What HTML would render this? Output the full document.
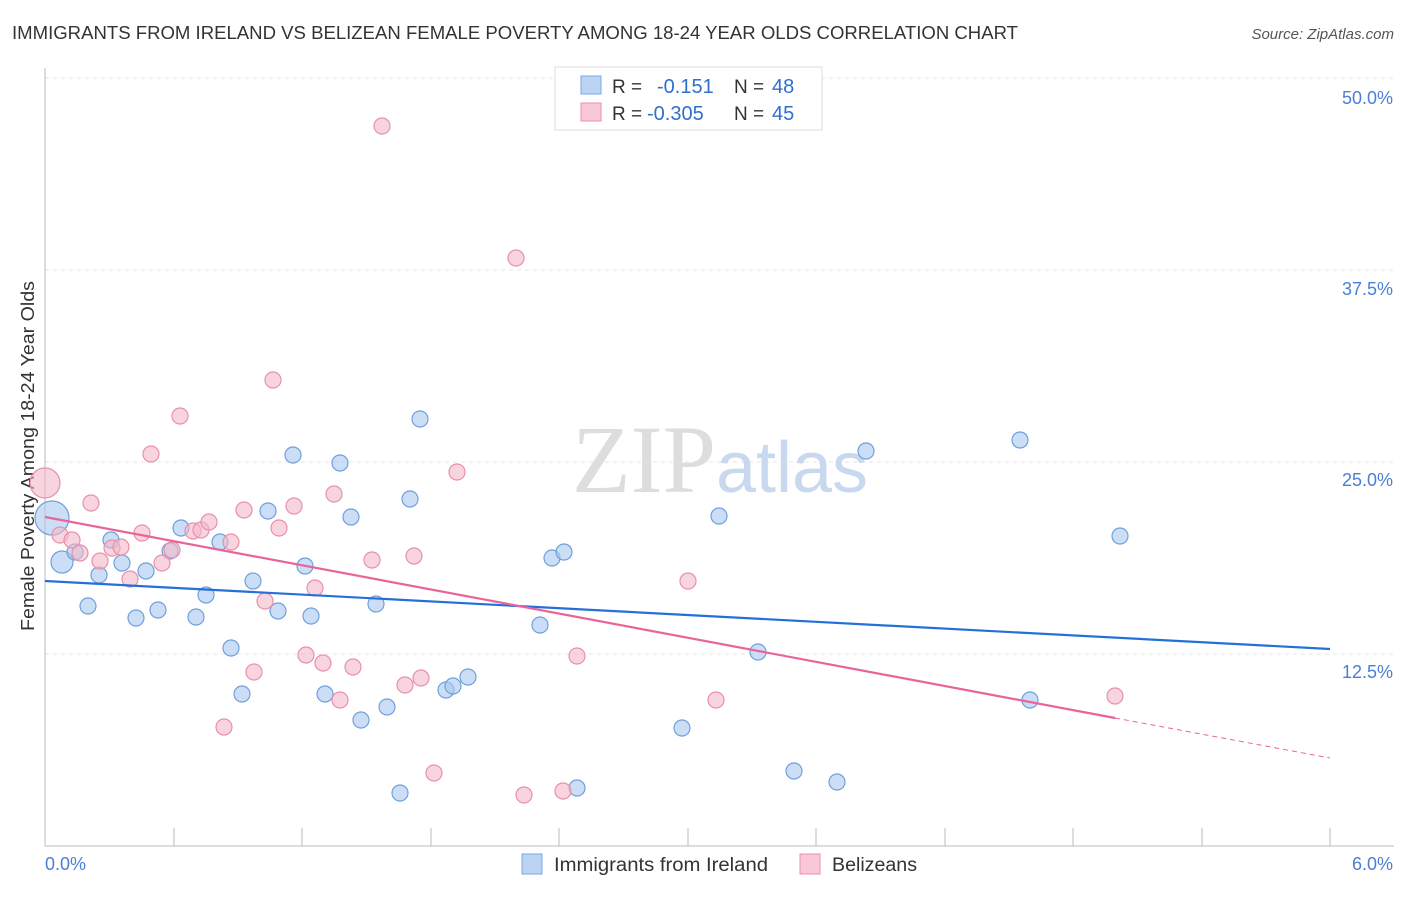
<!DOCTYPE html>
<html><head><meta charset="utf-8"><style>
body{margin:0;background:#fff;font-family:"Liberation Sans",Arial,sans-serif}
</style></head><body>
<svg width="1406" height="892" xmlns="http://www.w3.org/2000/svg" font-family="Liberation Sans, Arial, sans-serif">
<text x="12" y="39" font-size="18" fill="#333" textLength="1006" lengthAdjust="spacingAndGlyphs">IMMIGRANTS FROM IRELAND VS BELIZEAN FEMALE POVERTY AMONG 18-24 YEAR OLDS CORRELATION CHART</text>
<text x="1394" y="39" font-size="15" fill="#555" font-style="italic" text-anchor="end">Source: ZipAtlas.com</text>
<g stroke="#e4e4e4" stroke-dasharray="4,4">
<line x1="45" y1="78" x2="1394" y2="78"/><line x1="45" y1="270" x2="1394" y2="270"/><line x1="45" y1="462" x2="1394" y2="462"/><line x1="45" y1="654" x2="1394" y2="654"/>
</g>
<g stroke="#bbb"><line x1="45" y1="68" x2="45" y2="846"/><line x1="45" y1="846" x2="1394" y2="846"/>
<line x1="174" y1="828" x2="174" y2="846"/><line x1="302" y1="828" x2="302" y2="846"/><line x1="431" y1="828" x2="431" y2="846"/><line x1="559" y1="828" x2="559" y2="846"/><line x1="688" y1="828" x2="688" y2="846"/><line x1="816" y1="828" x2="816" y2="846"/><line x1="945" y1="828" x2="945" y2="846"/><line x1="1073" y1="828" x2="1073" y2="846"/><line x1="1202" y1="828" x2="1202" y2="846"/><line x1="1330" y1="828" x2="1330" y2="846"/></g>
<g font-size="18" fill="#4a7fd6" text-anchor="end">
<text x="1393" y="104">50.0%</text><text x="1393" y="295">37.5%</text><text x="1393" y="486">25.0%</text><text x="1393" y="678">12.5%</text>
</g>
<text x="45" y="870" font-size="18" fill="#4a7fd6">0.0%</text>
<text x="1393" y="870" font-size="18" fill="#4a7fd6" text-anchor="end">6.0%</text>
<text transform="translate(34,456) rotate(-90)" font-size="18" fill="#333" text-anchor="middle" textLength="350" lengthAdjust="spacingAndGlyphs">Female Poverty Among 18-24 Year Olds</text>
<text x="720" y="492" font-size="96" fill="#ddd" text-anchor="middle" font-family="Liberation Serif, serif">ZIP<tspan fill="#c8d8ee" font-family="Liberation Sans, sans-serif" font-size="72">atlas</tspan></text>
<g fill="#a8c8f0" fill-opacity="0.6" stroke="#6fa0dc" stroke-width="1.2">
<circle cx="52" cy="518" r="17"/><circle cx="62" cy="562" r="11"/><circle cx="75" cy="552" r="8"/><circle cx="88" cy="606" r="8"/><circle cx="99" cy="575" r="8"/><circle cx="111" cy="540" r="8"/><circle cx="122" cy="563" r="8"/><circle cx="136" cy="618" r="8"/><circle cx="146" cy="571" r="8"/><circle cx="158" cy="610" r="8"/><circle cx="170" cy="551" r="8"/><circle cx="181" cy="528" r="8"/><circle cx="196" cy="617" r="8"/><circle cx="206" cy="595" r="8"/><circle cx="220" cy="542" r="8"/><circle cx="231" cy="648" r="8"/><circle cx="242" cy="694" r="8"/><circle cx="253" cy="581" r="8"/><circle cx="268" cy="511" r="8"/><circle cx="278" cy="611" r="8"/><circle cx="293" cy="455" r="8"/><circle cx="305" cy="566" r="8"/><circle cx="311" cy="616" r="8"/><circle cx="325" cy="694" r="8"/><circle cx="340" cy="463" r="8"/><circle cx="351" cy="517" r="8"/><circle cx="361" cy="720" r="8"/><circle cx="376" cy="604" r="8"/><circle cx="387" cy="707" r="8"/><circle cx="400" cy="793" r="8"/><circle cx="410" cy="499" r="8"/><circle cx="420" cy="419" r="8"/><circle cx="446" cy="690" r="8"/><circle cx="453" cy="686" r="8"/><circle cx="468" cy="677" r="8"/><circle cx="540" cy="625" r="8"/><circle cx="552" cy="558" r="8"/><circle cx="564" cy="552" r="8"/><circle cx="577" cy="788" r="8"/><circle cx="682" cy="728" r="8"/><circle cx="719" cy="516" r="8"/><circle cx="758" cy="652" r="8"/><circle cx="794" cy="771" r="8"/><circle cx="837" cy="782" r="8"/><circle cx="866" cy="451" r="8"/><circle cx="1020" cy="440" r="8"/><circle cx="1030" cy="700" r="8"/><circle cx="1120" cy="536" r="8"/>
</g>
<g fill="#f4b8c8" fill-opacity="0.6" stroke="#e890ac" stroke-width="1.2">
<circle cx="45" cy="483" r="15"/><circle cx="60" cy="535" r="8"/><circle cx="72" cy="540" r="8"/><circle cx="80" cy="553" r="8"/><circle cx="91" cy="503" r="8"/><circle cx="100" cy="561" r="8"/><circle cx="112" cy="548" r="8"/><circle cx="121" cy="547" r="8"/><circle cx="130" cy="579" r="8"/><circle cx="142" cy="533" r="8"/><circle cx="151" cy="454" r="8"/><circle cx="162" cy="563" r="8"/><circle cx="172" cy="550" r="8"/><circle cx="180" cy="416" r="8"/><circle cx="193" cy="531" r="8"/><circle cx="201" cy="530" r="8"/><circle cx="209" cy="522" r="8"/><circle cx="224" cy="727" r="8"/><circle cx="231" cy="542" r="8"/><circle cx="244" cy="510" r="8"/><circle cx="254" cy="672" r="8"/><circle cx="265" cy="601" r="8"/><circle cx="273" cy="380" r="8"/><circle cx="279" cy="528" r="8"/><circle cx="294" cy="506" r="8"/><circle cx="306" cy="655" r="8"/><circle cx="315" cy="588" r="8"/><circle cx="323" cy="663" r="8"/><circle cx="334" cy="494" r="8"/><circle cx="340" cy="700" r="8"/><circle cx="353" cy="667" r="8"/><circle cx="372" cy="560" r="8"/><circle cx="382" cy="126" r="8"/><circle cx="405" cy="685" r="8"/><circle cx="414" cy="556" r="8"/><circle cx="421" cy="678" r="8"/><circle cx="434" cy="773" r="8"/><circle cx="457" cy="472" r="8"/><circle cx="516" cy="258" r="8"/><circle cx="524" cy="795" r="8"/><circle cx="563" cy="791" r="8"/><circle cx="577" cy="656" r="8"/><circle cx="688" cy="581" r="8"/><circle cx="716" cy="700" r="8"/><circle cx="1115" cy="696" r="8"/>
</g>
<line x1="45" y1="581" x2="1330" y2="649" stroke="#2470d8" stroke-width="2.2"/>
<line x1="45" y1="517" x2="1115" y2="718" stroke="#e8649a" stroke-width="2.2"/>
<line x1="1115" y1="718" x2="1330" y2="758" stroke="#e8649a" stroke-width="1" stroke-dasharray="5,4"/>
<rect x="555" y="67" width="267" height="63" fill="#fff" stroke="#ddd"/>
<rect x="581" y="76" width="20" height="18" fill="#bcd4f4" stroke="#7aaae0"/>
<rect x="581" y="103" width="20" height="18" fill="#f8c8d6" stroke="#e890ac"/>
<g font-size="19"><text x="612" y="93" fill="#333">R = </text><text x="657" y="93" fill="#2f6fd0" font-size="20">-0.151</text><text x="734" y="93" fill="#333">N = </text><text x="772" y="93" fill="#2f6fd0" font-size="20">48</text>
<text x="612" y="120" fill="#333">R = </text><text x="647" y="120" fill="#2f6fd0" font-size="20">-0.305</text><text x="734" y="120" fill="#333">N = </text><text x="772" y="120" fill="#2f6fd0" font-size="20">45</text></g>
<rect x="522" y="854" width="20" height="20" fill="#bcd4f4" stroke="#7aaae0"/>
<text x="554" y="871" font-size="19" fill="#333" textLength="214" lengthAdjust="spacingAndGlyphs">Immigrants from Ireland</text>
<rect x="800" y="854" width="20" height="20" fill="#f8c8d6" stroke="#e890ac"/>
<text x="832" y="871" font-size="19" fill="#333" textLength="85" lengthAdjust="spacingAndGlyphs">Belizeans</text>
</svg>
</body></html>
